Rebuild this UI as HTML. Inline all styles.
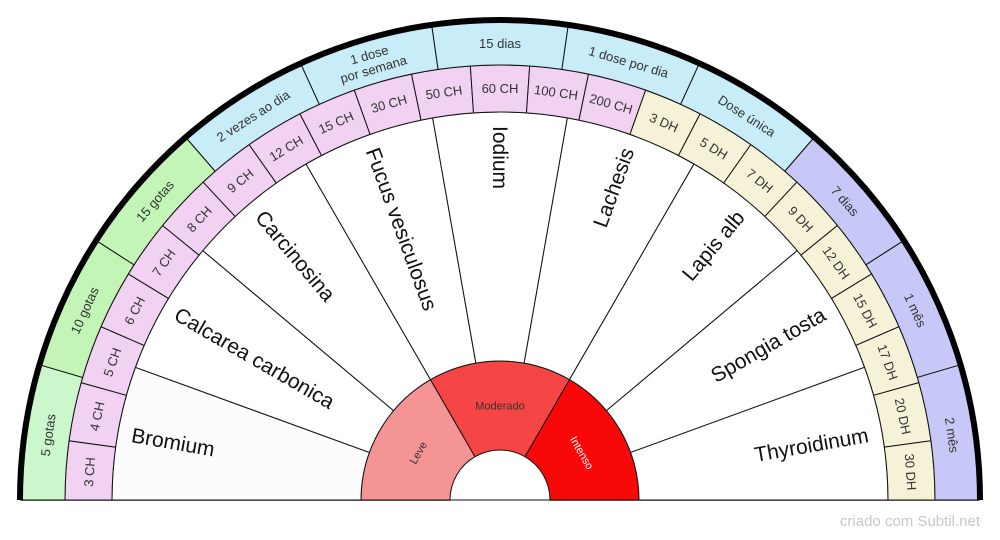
<!DOCTYPE html>
<html><head><meta charset="utf-8"><style>
html,body{margin:0;padding:0;background:#fff;}
svg{display:block;font-family:"Liberation Sans",sans-serif;}
</style></head><body>
<svg id="chart" width="1000" height="540" viewBox="0 0 1000 540" xmlns="http://www.w3.org/2000/svg">
<line x1="20" y1="500" x2="980" y2="500" stroke="#888" stroke-width="2"/>
<g id="layers"></g>
<path d="M 20 500 A 480 480 0 0 1 980 500" fill="none" stroke="#000" stroke-width="6"/>
<text x="980" y="526" text-anchor="end" font-size="15" fill="#c8c8c8">criado com Subtil.net</text>
</svg>
<script>
const intensities = ["Leve","Moderado","Intenso"];
const intensityColors = ["#f49494","#f54545","#f80808"];
const remedies = ["Bromium","Calcarea carbonica","Carcinosina","Fucus vesiculosus","Iodium","Lachesis","Lapis alb","Spongia tosta","Thyroidinum"];
const potencies = ["3 CH","4 CH","5 CH","6 CH","7 CH","8 CH","9 CH","12 CH","15 CH","30 CH","50 CH","60 CH","100 CH","200 CH","3 DH","5 DH","7 DH","9 DH","12 DH","15 DH","17 DH","20 DH","30 DH"];
const frequencies = ["5 gotas","10 gotas","15 gotas","2 vezes ao dia","1 dose|por semana","15 dias","1 dose por dia","Dose única","7 dias","1 mês","2 mês"];
const freqColors = ["#ccf6cc","#c2f5b6","#c2f5b6","#c8ecf8","#c8ecf8","#c8ecf8","#c8ecf8","#c8ecf8","#c8c8f8","#c8c8f8","#c8c8f8"];

const CX=500, CY=500, NS="http://www.w3.org/2000/svg";
const g=document.getElementById('layers');
function pt(r,a){const t=a*Math.PI/180;return [CX+r*Math.cos(t),CY-r*Math.sin(t)];}
function sector(r0,r1,a0,a1){
  const p1=pt(r1,a0),p2=pt(r1,a1),p3=pt(r0,a1),p4=pt(r0,a0);
  return `M${p1[0]} ${p1[1]} A${r1} ${r1} 0 0 1 ${p2[0]} ${p2[1]} L${p3[0]} ${p3[1]} A${r0} ${r0} 0 0 0 ${p4[0]} ${p4[1]} Z`;
}
function ring(items,colors,r0,r1,fs,name,textColors){
  const n=items.length, step=180/n;
  items.forEach((lab,i)=>{
    const a0=180-i*step, a1=a0-step, am=(a0+a1)/2;
    const p=document.createElementNS(NS,'path');
    p.setAttribute('d',sector(r0,r1,a0,a1));
    p.setAttribute('fill',colors(i));
    p.setAttribute('stroke','#111');p.setAttribute('stroke-width','1');
    
    
    g.appendChild(p);
    const rm=(r0+r1)/2, c=pt(rm,am);
    const t=document.createElementNS(NS,'text');
    t.setAttribute('transform',`translate(${c[0]},${c[1]}) rotate(${90-am})`);
    t.setAttribute('text-anchor','middle');
    t.setAttribute('font-size',fs);
    t.setAttribute('fill',textColors?textColors(i):'#333');
    
    
    const lines=lab.split('|');
    lines.forEach((ln,k)=>{
      const ts=document.createElementNS(NS,'tspan');
      ts.setAttribute('x',0);
      ts.setAttribute('y',(k-(lines.length-1)/2)*15+fs*0.35);
      ts.textContent=ln;t.appendChild(ts);
    });
    g.appendChild(t);
  });
}
// intensity ring
ring(intensities,i=>intensityColors[i],50,139,11,'intensity',i=>i==2?'#fff':'#333');
// remedies
(function(){
  const n=remedies.length, step=180/n;
  remedies.forEach((lab,i)=>{
    const a0=180-i*step,a1=a0-step,am=(a0+a1)/2;
    const p=document.createElementNS(NS,'path');
    p.setAttribute('d',sector(139,388,a0,a1));
    p.setAttribute('fill',i==0?'#fcfcfc':'#fff');
    p.setAttribute('stroke','#111');p.setAttribute('stroke-width','1');
    
    
    g.appendChild(p);
    const c=pt(374,am);
    const t=document.createElementNS(NS,'text');
    const left=am>=90;
    const rot=left?180-am:-am;
    t.setAttribute('transform',`translate(${c[0]},${c[1]}) rotate(${rot})`);
    t.setAttribute('text-anchor',left?'start':'end');
    t.setAttribute('y',7);
    t.setAttribute('font-size',21);
    t.setAttribute('fill','#111');
    
    
    t.textContent=lab;
    g.appendChild(t);
  });
})();
ring(potencies,i=>i<14?'#f2d2f2':'#f5f2d8',388,435,13,'potency');
ring(frequencies,i=>freqColors[i],435,478,13,'frequency');
</script>
</body></html>
